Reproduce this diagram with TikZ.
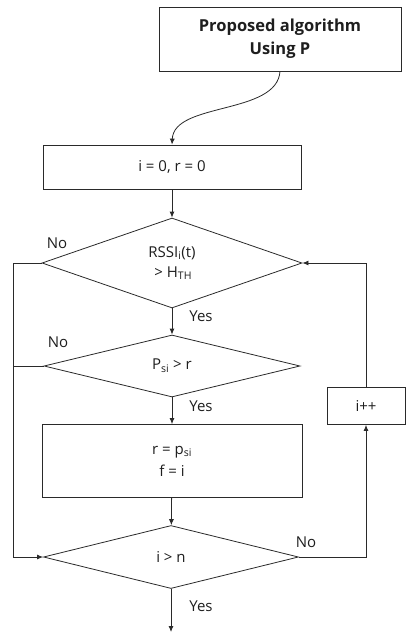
\documentclass[tikz,border=0pt]{standalone}
\usepackage{fontspec}
\setmainfont{Open Sans}
\usepackage{tikz}
\usetikzlibrary{arrows.meta, positioning, shapes.geometric, calc}
\definecolor{lineGray}{HTML}{2A2A2A}
\definecolor{textDark}{HTML}{1E1E1E}
\tikzset{
  arrowK/.style={-{Latex[length=6pt, width=5pt]}, lineGray, line width=0.8pt},
  lineK/.style={lineGray, line width=0.8pt},
  boxK/.style={rectangle, draw=lineGray, line width=0.8pt, text=textDark,
               align=center, inner sep=2pt},
  decK/.style={diamond, draw=lineGray, line width=0.8pt, text=textDark,
               align=center, inner sep=0pt},
  lblK/.style={text=textDark, inner sep=0pt},
}

\begin{document}
\begin{tikzpicture}[x=1pt, y=-1pt, font=\fontsize{15}{18}\selectfont]
    \useasboundingbox (0,0) rectangle (406,632);
    \node[boxK, minimum width=242pt, minimum height=64pt,
          font=\bfseries\fontsize{16.5}{23}\selectfont] (start) at (280,39)
          {Proposed algorithm\\Using P};
    \node[boxK, minimum width=258pt, minimum height=44pt] (init) at (172,167)
          {i = 0, r = 0};
    \node[decK, minimum width=260pt, minimum height=90pt] (rssi) at (172,263)
          {RSSI$_{\mathrm{i}}$(t)\\[2pt]\,> H$_{\mathrm{TH}}$};
    \node[decK, minimum width=256pt, minimum height=62pt] (psi) at (172,366)
          {P$_{\mathrm{si}}$ > r};
    \node[boxK, minimum width=260pt, minimum height=73pt] (upd) at (172,461)
          {r = p$_{\mathrm{si}}$\\[4pt]f = i};
    \node[decK, minimum width=255pt, minimum height=63pt] (last) at (171,557)
          {i > n};
    \node[boxK, minimum width=78pt, minimum height=37pt] (inc) at (366,406)
          {i++};
    \coordinate (lft) at (13,557);
    \coordinate (stop) at (171,632);
    % connectors
    \draw[arrowK] (start.south) .. controls (277,115) and (174,102) .. (init.north);
    \draw[arrowK] (init) -- (rssi);
    \draw[arrowK] (rssi) -- (psi);
    \draw[arrowK] (psi) -- (upd);
    \draw[arrowK] (upd) -- (last);
    \draw[arrowK] (last) -- (stop);
    \draw[lineK] (rssi.west) -| (lft);
    \draw[lineK] (psi.west) -- (psi.west -| lft);
    \draw[arrowK] (lft) -- (last.west);
    \draw[arrowK] (last.east) -| (inc.south);
    \draw[arrowK] (inc.north) |- (rssi.east);
    % labels
    \node[lblK] (no1) at (57,243) {No};
    \node[lblK] (yes1) at (201,316) {Yes};
    \node[lblK] (no2) at (58,342) {No};
    \node[lblK] (yes2) at (201,406) {Yes};
    \node[lblK] (no3) at (306,542) {No};
    \node[lblK] (yes3) at (201,606) {Yes};
  \end{tikzpicture}
\end{document}
